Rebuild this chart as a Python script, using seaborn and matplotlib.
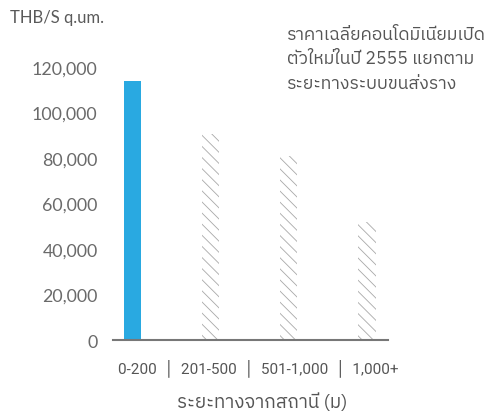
import matplotlib
matplotlib.use("Agg")
import matplotlib.pyplot as plt
from matplotlib import font_manager as fm
import seaborn as sns
import pandas as pd

# ---- data ----
categories = ["0-200", "201-500", "501-1,000", "1,000+"]
prices = [114000, 90500, 81000, 52000]
y_ticks = [0, 20000, 40000, 60000, 80000, 100000, 120000]
title_text = "ราคาเฉลี่ยคอนโดมิเนียมเปิด\nตัวใหม่ในปี 2555 แยกตาม\nระยะทางระบบขนส่งราง"
unit_text = "THB/S q.um."
xlabel_text = "ระยะทางจากสถานี (ม)"


def find_thai_font():
    try:
        from fontTools.ttLib import TTFont
    except Exception:
        return None
    cands = sorted(fm.fontManager.ttflist, key=lambda f: ("thai" not in f.name.lower(), f.name))
    for f in cands:
        try:
            tt = TTFont(f.fname, fontNumber=0, lazy=True)
            cmap = tt.getBestCmap()
            if cmap and 0x0E01 in cmap:
                return f.name
        except Exception:
            pass
    return None


sns.set_theme(style="white")
thai = find_thai_font()
fam = ([thai] if thai else []) + ["DejaVu Sans"]
plt.rcParams["font.family"] = fam
plt.rcParams["hatch.linewidth"] = 0.6

df = pd.DataFrame({"cat": categories, "price": prices})

fig = plt.figure(figsize=(4.93, 4.14), dpi=100)
ax = fig.add_axes([0.229, 0.176, 0.558, 0.660])

palette = ["#29A9E1", "white", "white", "white"]
sns.barplot(data=df, x="cat", y="price", hue="cat", palette=palette,
            legend=False, width=0.22, ax=ax, linewidth=0, saturation=1)

for i, p in enumerate(ax.patches):
    if i > 0:
        p.set_facecolor("white")
        p.set_edgecolor("#a8a8a8")
        p.set_hatch("\\\\\\")
        p.set_linewidth(0)

ax.set_xlim(-0.256, 3.27)
ax.set_ylim(0, 120000)
ax.set_yticks(y_ticks)
ax.set_yticklabels([f"{v:,}" for v in y_ticks], color="#6a6a6a", fontsize=12.8,
                   family=["Lato", "DejaVu Sans"])
ax.tick_params(axis="y", length=0, pad=11)
ax.set_xticks([])
ax.set_xlabel("")
ax.set_ylabel("")
for s in ["left", "right", "top"]:
    ax.spines[s].set_visible(False)
ax.spines["bottom"].set_color("#777777")
ax.spines["bottom"].set_linewidth(1.5)

fig.text(10 / 493, 1 - 18 / 414, unit_text, fontsize=12, color="#5a5a5a",
         va="center", ha="left", family=["Lato", "DejaVu Sans"])
fig.text(287 / 493, 1 - 26 / 414, title_text, fontsize=12.7, color="#555555",
         va="top", ha="left", linespacing=1.45)
fig.text(258 / 493, 1 - 368 / 414, "  │  ".join(categories), fontsize=11,
         color="#555555", va="center", ha="center",
         family=["Roboto", "DejaVu Sans"])
fig.text(262 / 493, 1 - 403 / 414, xlabel_text, fontsize=13.5, color="#555555",
         va="center", ha="center")

fig.savefig("out.png", dpi=100)
